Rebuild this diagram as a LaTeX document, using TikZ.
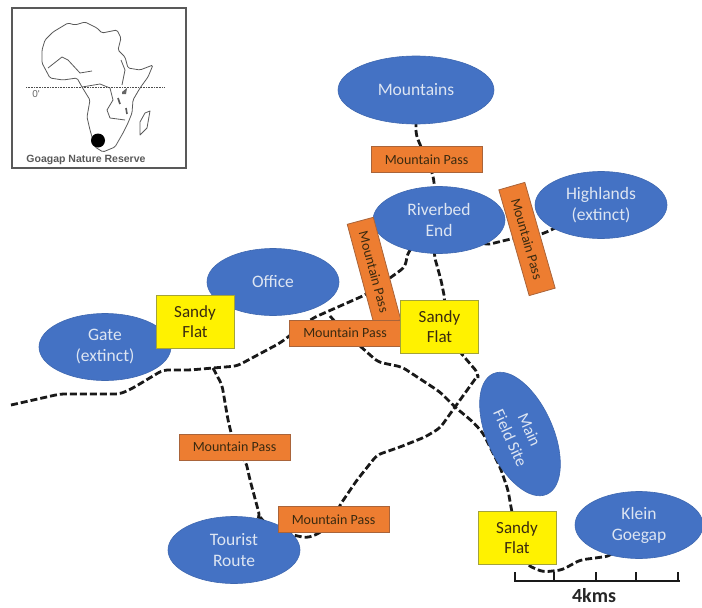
\documentclass[tikz,border=0pt]{standalone}
\usepackage{fontspec}
\setmainfont{Carlito}
\newfontfamily\arialfont{Liberation Sans}
\usetikzlibrary{backgrounds,shapes.geometric}
\definecolor{bluefill}{HTML}{4472C4}
\definecolor{blueedge}{HTML}{3F68B0}
\definecolor{orangefill}{HTML}{ED7D31}
\definecolor{orangeedge}{HTML}{A9643A}
\definecolor{yellowedge}{HTML}{A3A33A}
\definecolor{lighttext}{HTML}{DDE5F2}
\definecolor{darktext}{HTML}{3A2A10}
\tikzset{
  x=1pt,y=-1pt,
  place/.style={ellipse,draw=blueedge,fill=bluefill,text=lighttext,line width=.6pt,inner sep=0pt,
    minimum width=132pt,minimum height=67pt,align=center,font=\fontsize{17.5}{21}\selectfont},
  passbox/.style={rectangle,draw=orangeedge,fill=orangefill,text=darktext,line width=.8pt,inner sep=0pt,
    minimum width=111pt,minimum height=26pt,font=\fontsize{14}{15}\selectfont},
  sandy/.style={rectangle,draw=yellowedge,fill=yellow,text=darktext,line width=1pt,inner sep=0pt,
    minimum width=78pt,minimum height=53pt,align=center,font=\fontsize{17}{20}\selectfont},
  road/.style={draw=black!90,line width=2.8pt,dash pattern=on 7pt off 3pt,rounded corners=5pt},
  scalebar/.style={draw=black!90,line width=2.2pt},
  coast/.style={draw=black!65,line width=.8pt,line join=round},
}
\begin{document}
\begin{tikzpicture}
\useasboundingbox (0,0) rectangle (702,608);
% places
\node[place] (mountains) at (416,90) [minimum width=156pt,minimum height=68pt] {Mountains};
\node[place] (riverbed) at (439,220) {Riverbed\\End};
\node[place] (highlands) at (601,205) {Highlands\\(extinct)};
\node[place] (office) at (273,282) {Office};
\node[place] (gate) at (105,347) {Gate\\(extinct)};
\node[place,rotate=-66,minimum width=132pt,minimum height=66pt,font=\fontsize{16.5}{21}\selectfont] (field) at (520,434) {Main\\Field Site};
\node[place] (tourist) at (234,550) {Tourist\\Route};
\node[place,minimum width=128pt] (klein) at (639,525) {Klein\\Goegap};
% passes
\node[passbox] (pass1) at (426.5,159.5) {Mountain Pass};
\node[passbox,rotate=-75,minimum width=106pt,minimum height=27pt] (pass2) at (374,272) {Mountain Pass};
\node[passbox,rotate=-74,minimum width=110pt,minimum height=27pt] (pass3) at (527,239) {Mountain Pass};
\node[passbox] (pass4) at (345,333) {Mountain Pass};
\node[passbox] (pass5) at (234.5,447) {Mountain Pass};
\node[passbox] (pass6) at (333.5,519.5) {Mountain Pass};
% sandy flats
\node[sandy] (flat1) at (195,321.5) {Sandy\\Flat};
\node[sandy] (flat2) at (439.5,326.5) {Sandy\\Flat};
\node[sandy] (flat3) at (517,538) {Sandy\\Flat};
% free ends and junctions of tracks
\coordinate (west) at (11,405);
\coordinate (forkA) at (213,368);
\coordinate (forkB) at (478,375);
% tracks
\begin{scope}[on background layer]
\draw[road] (mountains.center) -- (416,135) -- (pass1.center) -- (433,175) -- (riverbed.center);
\draw[road] (riverbed.center) -- (486,245) -- (515,238) -- (pass3.center) -- (547,232) -- (highlands.center);
\draw[road] (riverbed.center) -- (434,255) -- (441,280) -- (445,300) -- (flat2.center);
\draw[road] (west) -- (60,394) -- (120,394) -- (133,388) -- (163,370) -- (190,370) -- (forkA) -- (237,366) -- (280,343) -- (313,318) -- (365,295) -- (390,278) -- (405,267) -- (408,252) -- (riverbed.center);
\draw[road] (forkA) -- (222,385) -- (228,420) -- (pass5.center);
\draw[road] (pass5.center) -- (246,462) -- (250,480) -- (260,517) -- (tourist.center);
\draw[road] (260,517) -- (267,525) -- (293,535) -- (307,538) -- (320,533) -- (pass6.center);
\draw[road] (pass6.center) -- (340,505) -- (357,480) -- (377,455) -- (400,447) -- (425,437) -- (440,428) -- (455,407) -- (forkB);
\draw[road] (forkB) -- (478,373) -- (460,352) -- (flat2.center);
\draw[road] (pass4.center) -- (360,346) -- (378,362) -- (402,367) -- (440,392) -- (455,407) -- (473,422) -- (483,433) -- (500,467) -- (508,490) -- (511,507) -- (flat3.center);
\draw[road] (330,316) -- (pass4.center);
\draw[road] (flat3.center) -- (527,565) -- (543,572) -- (562,570) -- (580,560) -- (610,556) -- (klein.center);
\end{scope}
% inset map
\node[draw=black!65,line width=1.2pt,minimum width=174pt,minimum height=160pt,inner sep=0pt] (inset) at (99,88) {};
\draw[coast,rounded corners=1.5pt] (42,50) -- (45,40) -- (53,32) -- (68,23) -- (75,25) -- (85,22) -- (97,28) -- (102,33) -- (117,30) -- (121,38) -- (118,50) -- (125,57) -- (128,68) -- (140,70) -- (153,65) -- (148,77) -- (140,88) -- (133,100) -- (132,113) -- (128,123) -- (123,133) -- (115,147) -- (103,152) -- (95,147) -- (90,130) -- (87,117) -- (90,100) -- (82,87) -- (77,78) -- (63,80) -- (50,78) -- (42,63) -- cycle;
\draw[coast] (48,68) -- (62,57) -- (68,60) -- (80,73) -- (92,71);
\draw[coast] (82,87) -- (100,84) -- (110,88) -- (113,100) -- (107,110) -- (110,118) -- (125,120);
\draw[coast] (121,60) -- (125,70) -- (122,85);
\draw[coast] (145,113) -- (150,111) -- (147,128) -- (140,135) -- (140,122) -- cycle;
\fill[black!60] (122,92) -- (127,88) -- (126,94) -- (122,94) -- cycle;
\draw[black!65,line width=1.6pt] (118,98) -- (120,104);
\draw[black!65,line width=1.6pt] (126,108) -- (127,114);
\draw[black!70,line width=.6pt,densely dotted] (26,87) -- (165,87);
\node[text=black!60,font=\arialfont\fontsize{10}{11}\selectfont,inner sep=0pt] (zero) at (36,94) {0'};
\fill[black] (98,140.5) circle (7pt);
\node[text=black!65,font=\arialfont\bfseries\fontsize{10.5}{12}\selectfont,inner sep=0pt] (reserve) at (86,160) {Goagap Nature Reserve};
% scale bar
\draw[scalebar] (515,581) -- (680,581);
\foreach \x in {515,554,596,636,678}{\draw[scalebar] (\x,572) -- (\x,582);}
\node[font=\bfseries\fontsize{20}{22}\selectfont,text=black!85,inner sep=0pt] (scale) at (594,596) {4kms};
\end{tikzpicture}
\end{document}
